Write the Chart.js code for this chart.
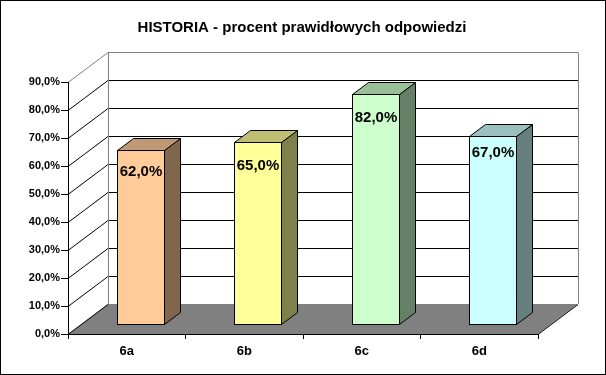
<!DOCTYPE html>
<html>
<head>
<meta charset="utf-8">
<script src="https://cdn.jsdelivr.net/npm/chart.js@4.4.1/dist/chart.umd.min.js"></script>
<style>
  html, body { margin: 0; padding: 0; background: #fff; }
  #wrap { width: 606px; height: 375px; }
</style>
</head>
<body>
<div id="wrap"><canvas id="historiaChart" width="606" height="375"></canvas></div>
<script>
// dane wykresu
const categories = ['6a', '6b', '6c', '6d'];
const values = [62, 65, 82, 67];
const tickValues = [0, 10, 20, 30, 40, 50, 60, 70, 80, 90];
const chartTitle = 'HISTORIA - procent prawidłowych odpowiedzi';

// kolory słupków (przód, bok, góra)
const frontColors = ['#FFCC99', '#FFFF99', '#CCFFCC', '#CCFFFF'];
const sideColors = ['#80664D', '#80804D', '#668066', '#668080'];
const topColors = ['#BF9973', '#BFBF73', '#99BF99', '#99BFBF'];
const labelOffsets = [21, 23, 23, 16];

const FONT = '"Liberation Sans", Arial, sans-serif';
const DEPTH_X = 40, DEPTH_Y = 30;   // głębokość "3D"
const BAR_Z0 = 10 / 30, BAR_Z1 = 22 / 30;

const fmt = v => v.toFixed(1).replace('.', ',') + '%';

const pseudo3d = {
    id: 'pseudo3d',
    beforeDraw(chart) {
        const c = chart.ctx;
        const { left: L, right: R, bottom: B } = chart.chartArea;
        const y = chart.scales.y;

        c.save();
        c.fillStyle = '#fff';
        c.fillRect(0, 0, chart.width, chart.height);

        // podłoga
        c.fillStyle = '#808080';
        c.beginPath();
        c.moveTo(L, B);
        c.lineTo(R, B);
        c.lineTo(R + DEPTH_X, B - DEPTH_Y);
        c.lineTo(L + DEPTH_X, B - DEPTH_Y);
        c.closePath();
        c.fill();

        c.lineWidth = 1;
        // linie siatki: lewa ściana + tylna ściana
        tickValues.forEach(v => {
            const py = Math.round(y.getPixelForValue(v)) + 0.5;
            const top = v === tickValues[tickValues.length - 1];
            c.strokeStyle = top ? '#808080' : '#000';
            c.beginPath();
            c.moveTo(L, py);
            c.lineTo(L + DEPTH_X, py - DEPTH_Y);
            if (v > 0) c.lineTo(R + DEPTH_X, py - DEPTH_Y);
            c.stroke();
        });

        // krawędzie tylnej ściany
        const bTop = Math.round(y.getPixelForValue(tickValues[tickValues.length - 1])) + 0.5 - DEPTH_Y;
        const bBot = B - DEPTH_Y;
        c.strokeStyle = '#808080';
        c.beginPath();
        c.moveTo(L + DEPTH_X + 0.5, bBot);
        c.lineTo(L + DEPTH_X + 0.5, bTop);
        c.moveTo(R + DEPTH_X + 0.5, bTop);
        c.lineTo(R + DEPTH_X + 0.5, bBot);
        c.stroke();

        // prawa krawędź podłogi
        c.strokeStyle = '#000';
        c.beginPath();
        c.moveTo(R, B + 0.5);
        c.lineTo(R + DEPTH_X, B - DEPTH_Y + 0.5);
        c.stroke();
        c.restore();
    },
    beforeDatasetDraw() {
        return false; // słupki rysujemy sami
    },
    afterDatasetsDraw(chart) {
        const c = chart.ctx;
        const meta = chart.getDatasetMeta(0);
        const dx = DEPTH_X * (BAR_Z1 - BAR_Z0);
        const dy = DEPTH_Y * (BAR_Z1 - BAR_Z0);

        c.save();
        c.lineWidth = 1;
        c.strokeStyle = '#000';
        meta.data.forEach((bar, i) => {
            const x0 = Math.round(bar.x - bar.width / 2 + DEPTH_X * BAR_Z0) + 0.5;
            const x1 = Math.round(bar.x + bar.width / 2 + DEPTH_X * BAR_Z0) + 0.5;
            const yT = Math.round(bar.y - DEPTH_Y * BAR_Z0) + 0.5;
            const yB = Math.round(bar.base - DEPTH_Y * BAR_Z0) + 0.5;

            // bok
            c.fillStyle = sideColors[i];
            c.beginPath();
            c.moveTo(x1, yT);
            c.lineTo(x1 + dx, yT - dy);
            c.lineTo(x1 + dx, yB - dy);
            c.lineTo(x1, yB);
            c.closePath();
            c.fill();
            c.stroke();

            // góra
            c.fillStyle = topColors[i];
            c.beginPath();
            c.moveTo(x0, yT);
            c.lineTo(x0 + dx, yT - dy);
            c.lineTo(x1 + dx, yT - dy);
            c.lineTo(x1, yT);
            c.closePath();
            c.fill();
            c.stroke();

            // przód
            c.fillStyle = frontColors[i];
            c.fillRect(x0, yT, x1 - x0, yB - yT);
            c.strokeRect(x0, yT, x1 - x0, yB - yT);

            // etykieta
            c.fillStyle = '#000';
            c.font = 'bold 15px ' + FONT;
            c.textAlign = 'center';
            c.textBaseline = 'middle';
            c.fillText(fmt(values[i]), (x0 + x1) / 2, yT + labelOffsets[i]);
        });
        c.restore();
    },
    afterDraw(chart) {
        const c = chart.ctx;
        c.save();
        c.fillStyle = '#000';
        c.font = 'bold 15px ' + FONT;
        c.textAlign = 'center';
        c.textBaseline = 'middle';
        c.fillText(chartTitle, 302, 28);
        c.strokeStyle = '#000';
        c.lineWidth = 1;
        c.strokeRect(0.5, 0.5, chart.width - 1, chart.height - 1);
        c.restore();
    }
};

new Chart(document.getElementById('historiaChart'), {
    type: 'bar',
    data: {
        labels: categories,
        datasets: [{
            data: values,
            backgroundColor: frontColors,
            barPercentage: 0.4,
            categoryPercentage: 1
        }]
    },
    options: {
        responsive: false,
        animation: false,
        layout: { padding: { left: 0, right: 68, top: 82, bottom: 0 } },
        plugins: {
            legend: { display: false },
            title: { display: false },
            tooltip: { enabled: false }
        },
        scales: {
            x: {
                offset: true,
                grid: { display: true, offset: true, drawOnChartArea: false, drawTicks: true, tickLength: 5, color: '#000' },
                border: { display: true, color: '#000' },
                ticks: { color: '#000', font: { family: FONT, size: 13, weight: 'bold' }, padding: 5, maxRotation: 0 },
                afterFit(s) { s.height = 41; }
            },
            y: {
                min: 0,
                max: 90,
                afterBuildTicks(s) { s.ticks = tickValues.map(v => ({ value: v })); },
                grid: { display: true, drawOnChartArea: false, drawTicks: true, tickLength: 7, color: '#000' },
                border: { display: true, color: '#000' },
                ticks: { color: '#000', font: { family: FONT, size: 11, weight: 'bold' }, padding: 1, callback: v => fmt(v) },
                afterFit(s) { s.width = 68; }
            }
        }
    },
    plugins: [pseudo3d]
});
</script>
</body>
</html>
